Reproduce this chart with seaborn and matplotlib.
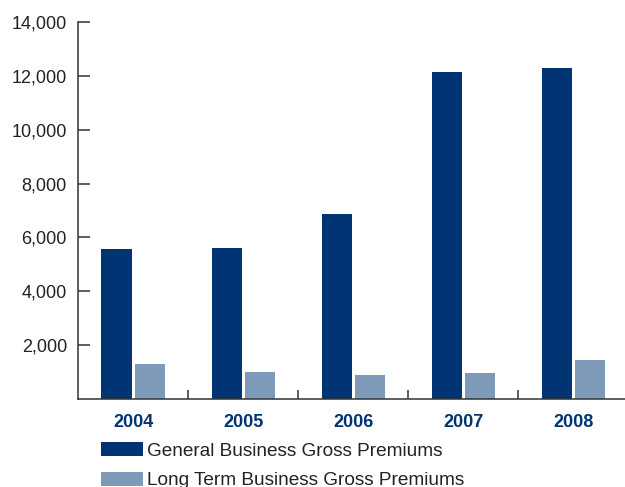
import matplotlib
matplotlib.use("Agg")
import matplotlib.pyplot as plt
import seaborn as sns
import pandas as pd
from matplotlib.ticker import FuncFormatter, FixedLocator

# Gross premiums by year
years = ["2004", "2005", "2006", "2007", "2008"]
general_business = [5570, 5600, 6860, 12130, 12280]
long_term_business = [1300, 1000, 900, 960, 1450]
series_names = ["General Business Gross Premiums", "Long Term Business Gross Premiums"]
series_colors = ["#003473", "#7F9AB9"]
y_ticks = [2000, 4000, 6000, 8000, 10000, 12000, 14000]

df = pd.DataFrame({
    "year": years * 2,
    "value": general_business + long_term_business,
    "series": [series_names[0]] * len(years) + [series_names[1]] * len(years),
})

sns.set_theme(style="white")
plt.rcParams["font.family"] = ["Liberation Sans", "DejaVu Sans"]

W, H = 625, 487
fig = plt.figure(figsize=(W / 100, H / 100), dpi=100)
ax = fig.add_axes([78 / W, 88 / H, 547 / W, 377 / H])

sns.barplot(data=df, x="year", y="value", hue="series", order=years,
            hue_order=series_names, palette=series_colors, saturation=1,
            width=0.6, gap=0.0909, legend=False, ax=ax, linewidth=0)

ax.set_xlim(-0.5, 4.4727)
ax.set_ylim(0, 14000)
ax.set_xlabel("")
ax.set_ylabel("")

for side in ("top", "right"):
    ax.spines[side].set_visible(False)
for side in ("left", "bottom"):
    ax.spines[side].set_color("#333333")
    ax.spines[side].set_linewidth(1.1)

ax.yaxis.set_major_locator(FixedLocator(y_ticks))
ax.yaxis.set_major_formatter(FuncFormatter(lambda v, p: f"{v:,.0f}"))
ax.tick_params(axis="y", direction="in", length=8.5, width=1.1, color="#333333",
               pad=8, labelsize=13, labelcolor="#222222", left=True)

ax.set_xticks(range(len(years)))
ax.set_xticklabels(years)
ax.tick_params(axis="x", which="major", length=0, pad=11, labelsize=13,
               labelcolor="#003473")
for lab in ax.get_xticklabels():
    lab.set_fontweight("bold")
ax.set_xticks([0.5, 1.5, 2.5, 3.5], minor=True)
ax.tick_params(axis="x", which="minor", direction="in", length=6.5, width=1.1,
               color="#333333", bottom=True)

fs = 13.7 * 100 / 72
ax.legend(handles=[ax.containers[0], ax.containers[1]], labels=series_names,
          loc="upper left", bbox_to_anchor=(101 / W, 1 - 442 / H),
          bbox_transform=fig.transFigure, frameon=False, fontsize=13.7,
          borderpad=0, borderaxespad=0, handlelength=42 / fs,
          handleheight=15 / fs, handletextpad=4 / fs, labelspacing=0.62,
          labelcolor="#222222")

fig.savefig("out.png", dpi=100)
